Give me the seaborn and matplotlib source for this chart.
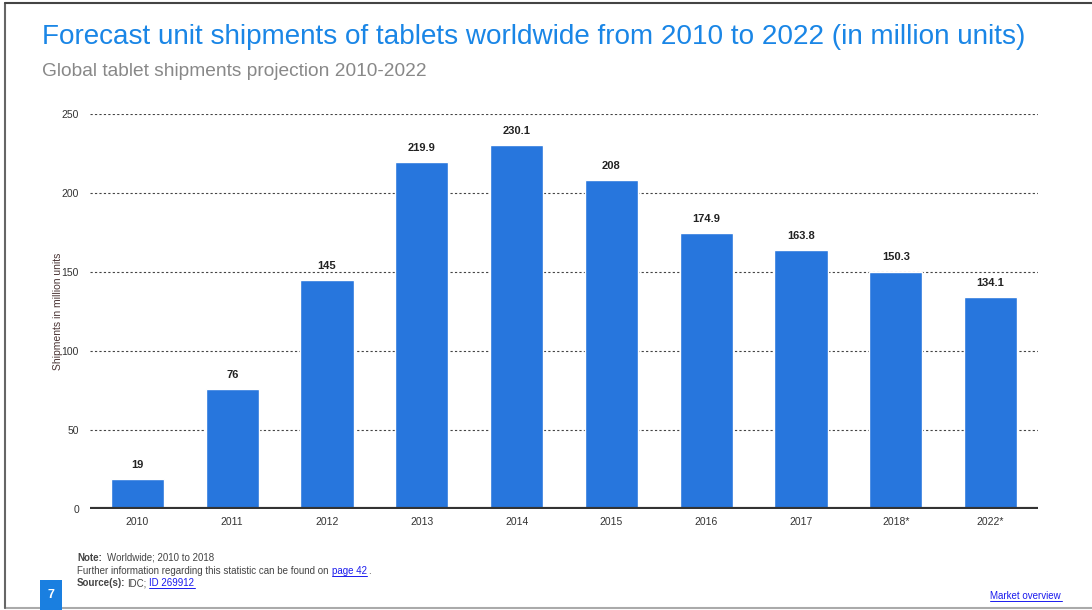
import matplotlib
matplotlib.use("Agg")
import matplotlib.pyplot as plt
import seaborn as sns
import pandas as pd
from matplotlib.patches import Rectangle
from matplotlib.lines import Line2D

# Chart data
years = ["2010", "2011", "2012", "2013", "2014", "2015", "2016", "2017", "2018*", "2022*"]
shipments = [19, 76, 145, 219.9, 230.1, 208, 174.9, 163.8, 150.3, 134.1]
value_labels = ["19", "76", "145", "219.9", "230.1", "208", "174.9", "163.8", "150.3", "134.1"]
y_ticks = [0, 50, 100, 150, 200, 250]

title = "Forecast unit shipments of tablets worldwide from 2010 to 2022 (in million units)"
subtitle = "Global tablet shipments projection 2010-2022"
y_label = "Shipments in million units"

sns.set_theme(style="white")
plt.rcParams["font.family"] = ["Liberation Sans", "DejaVu Sans"]

BAR = "#2776dd"
BLUE = "#1a86e6"
LINK = "#1a1aee"
NOTE = "#444444"
FS_NOTE = 7.0

df = pd.DataFrame({"year": years, "shipments": shipments})

fig = plt.figure(figsize=(10.92, 6.10), dpi=100)
ax = fig.add_axes([90 / 1092, 1 - 509 / 610, (1038 - 90) / 1092, (509 - 114) / 610])

sns.barplot(data=df, x="year", y="shipments", color=BAR, saturation=1,
            width=0.56, ax=ax, zorder=3)

ax.set_xlim(-0.5, len(years) - 0.5)
ax.set_ylim(0, 250)
ax.set_yticks(y_ticks)
ax.set_yticklabels([str(t) for t in y_ticks])
ax.tick_params(axis="both", length=0, labelsize=7.5, labelcolor="#333333")
ax.tick_params(axis="y", pad=8)
ax.tick_params(axis="x", pad=6)
ax.set_xlabel("")
ax.set_ylabel(y_label, fontsize=7.5, color="#4a3434")
ax.yaxis.set_label_coords(-0.029, 0.5)

for s in ax.spines.values():
    s.set_visible(False)
for t in y_ticks[1:]:
    ax.axhline(t, color="#444444", linewidth=0.8, linestyle=(0, (2, 2)), zorder=1)
ax.axhline(0, color="#333333", linewidth=3, zorder=4)

for i, (v, lbl) in enumerate(zip(shipments, value_labels)):
    ax.annotate(lbl, (i, v), xytext=(0, 6.5), textcoords="offset points",
                ha="center", va="bottom", fontsize=8, fontweight="bold", color="#222222")

# Titles
fig.text(42 / 1092, 1 - 37 / 610, title, fontsize=20.1, color=BLUE, va="center", ha="left")
fig.text(42 / 1092, 1 - 72 / 610, subtitle, fontsize=13.8, color="#888888", va="center", ha="left")


def link(x0, x1, y, text):
    fig.text(x0 / 1092, 1 - y / 610, text, fontsize=FS_NOTE, color=LINK, va="center")
    fig.lines.append(Line2D([x0 / 1092, x1 / 1092], [1 - (y + 5) / 610] * 2,
                            transform=fig.transFigure, color=LINK, linewidth=0.7))


# Footer notes
fx = 77 / 1092
fig.text(fx, 1 - 558 / 610, "Note:", fontsize=FS_NOTE, fontweight="bold", color=NOTE, va="center")
fig.text(fx + 30 / 1092, 1 - 558 / 610, "Worldwide; 2010 to 2018", fontsize=FS_NOTE, color=NOTE, va="center")
fig.text(fx, 1 - 571 / 610, "Further information regarding this statistic can be found on",
         fontsize=FS_NOTE, color=NOTE, va="center")
link(332, 367, 571, "page 42")
fig.text(368 / 1092, 1 - 571 / 610, ".", fontsize=FS_NOTE, color=NOTE, va="center")
fig.text(fx, 1 - 583 / 610, "Source(s):", fontsize=FS_NOTE, fontweight="bold", color=NOTE, va="center")
fig.text(fx + 50 / 1092, 1 - 583 / 610, "IDC;", fontsize=FS_NOTE, color=NOTE, va="center")
link(149, 195, 583, "ID 269912")
link(990, 1062, 596, "Market overview")

# Page number badge
fig.patches.append(Rectangle((40 / 1092, 0), 22 / 1092, 30 / 610, transform=fig.transFigure,
                             facecolor="#1a7fe0", edgecolor="none", zorder=5))
fig.text(51 / 1092, 1 - 595 / 610, "7", fontsize=9, fontweight="bold", color="white",
         ha="center", va="center", zorder=6)

# Slide frame
fig.lines.append(Line2D([5 / 1092, 5 / 1092], [1 - 3 / 610, 1 - 608 / 610], transform=fig.transFigure,
                        color="#666666", linewidth=1.5))
fig.lines.append(Line2D([5 / 1092, 1], [1 - 3 / 610, 1 - 3 / 610], transform=fig.transFigure,
                        color="#444444", linewidth=1.5))
fig.lines.append(Line2D([5 / 1092, 1], [1 - 608 / 610, 1 - 608 / 610], transform=fig.transFigure,
                        color="#aaaaaa", linewidth=1.5, zorder=1))

fig.savefig("out.png", dpi=100)
